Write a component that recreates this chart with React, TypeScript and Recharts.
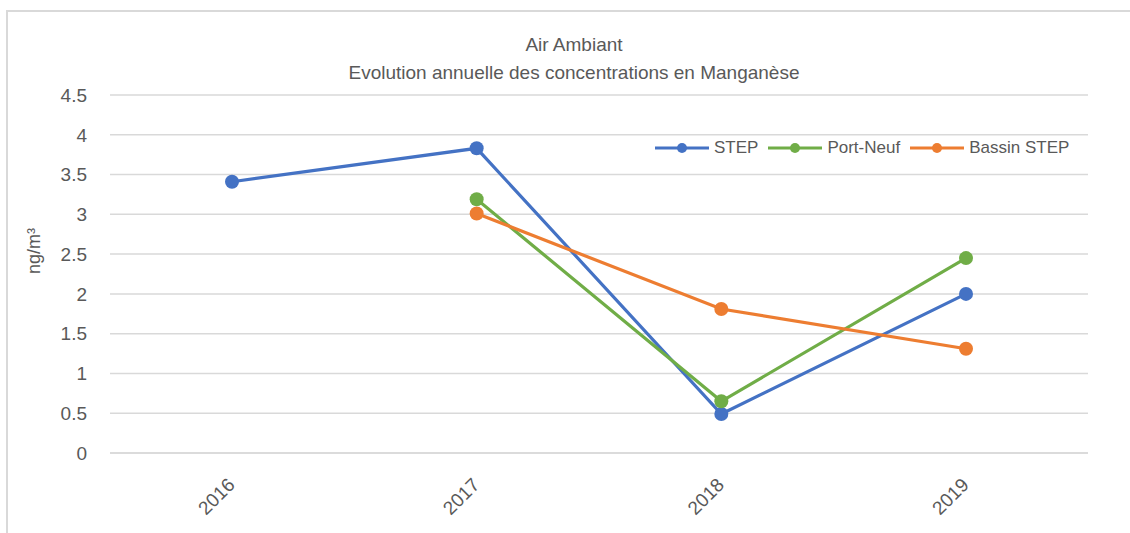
import { LineChart, Line, XAxis, YAxis, CartesianGrid } from "recharts"

const years = ["2016", "2017", "2018", "2019"]
const step = [3.41, 3.83, 0.49, 2.0]
const portNeuf = [null, 3.19, 0.65, 2.45]
const bassinStep = [null, 3.01, 1.81, 1.31]
const yTicks = [0, 0.5, 1, 1.5, 2, 2.5, 3, 3.5, 4, 4.5]

const series = [
  { key: "step", name: "STEP", color: "#4472C4" },
  { key: "portNeuf", name: "Port-Neuf", color: "#70AD47" },
  { key: "bassinStep", name: "Bassin STEP", color: "#ED7D31" },
]

const data = years.map((year, i) => ({
  year,
  step: step[i],
  portNeuf: portNeuf[i],
  bassinStep: bassinStep[i],
}))

const font = "'Liberation Sans', Arial, sans-serif"
const textColor = "#595959"

const XTick = ({ x, y, payload }) => (
  <text
    x={x + 4}
    y={y + 25}
    transform={`rotate(-45, ${x + 4}, ${y + 25})`}
    textAnchor="end"
    fill={textColor}
    fontSize={19}
    fontFamily={font}
  >
    {payload.value}
  </text>
)

export default function App() {
  return (
    <div style={{ position: "absolute", left: 0, top: 0, width: 1130, height: 533, background: "#fff", overflow: "hidden" }}>
      <div
        style={{
          position: "absolute",
          left: 6,
          top: 10,
          width: 1140,
          height: 540,
          border: "2px solid #d9d9d9",
          boxSizing: "border-box",
        }}
      />
      <div
        style={{
          position: "absolute",
          left: 0,
          width: 1148,
          top: 31,
          textAlign: "center",
          fontFamily: font,
          fontSize: 19,
          lineHeight: "28px",
          color: textColor,
        }}
      >
        <div>Air Ambiant</div>
        <div>Evolution annuelle des concentrations en Manganèse</div>
      </div>
      <LineChart width={1130} height={533} data={data} margin={{ top: 95, right: 42, bottom: 0, left: 0 }}>
        <CartesianGrid vertical={false} stroke="#d9d9d9" strokeWidth={1.5} />
        <XAxis
          dataKey="year"
          height={80}
          padding={{ left: 122, right: 122 }}
          axisLine={{ stroke: "#d9d9d9", strokeWidth: 1.5 }}
          tickLine={false}
          tick={XTick}
          interval={0}
        />
        <YAxis
          width={110}
          domain={[0, 4.5]}
          ticks={yTicks}
          axisLine={false}
          tickLine={false}
          tickSize={0}
          tickMargin={23}
          tick={{ fill: textColor, fontSize: 19, fontFamily: font }}
          label={{
            value: "ng/m³",
            angle: -90,
            position: "insideLeft",
            offset: 34,
            fill: textColor,
            fontSize: 18,
            fontFamily: font,
          }}
        />
        {series.map((s) => (
          <Line
            key={s.key}
            dataKey={s.key}
            name={s.name}
            stroke={s.color}
            strokeWidth={3.2}
            dot={{ r: 7, fill: s.color, stroke: s.color, strokeWidth: 0 }}
            activeDot={false}
            isAnimationActive={false}
          />
        ))}
      </LineChart>
      <div
        style={{
          position: "absolute",
          left: 655,
          top: 138,
          display: "flex",
          alignItems: "center",
          fontFamily: font,
          fontSize: 17,
          color: textColor,
        }}
      >
        {series.map((s) => (
          <div key={s.key} style={{ display: "flex", alignItems: "center", marginRight: 10 }}>
            <svg width={54} height={14} style={{ marginRight: 5 }}>
              <line x1={0} y1={7} x2={54} y2={7} stroke={s.color} strokeWidth={3} />
              <circle cx={27} cy={7} r={5} fill={s.color} />
            </svg>
            <span>{s.name}</span>
          </div>
        ))}
      </div>
    </div>
  )
}
